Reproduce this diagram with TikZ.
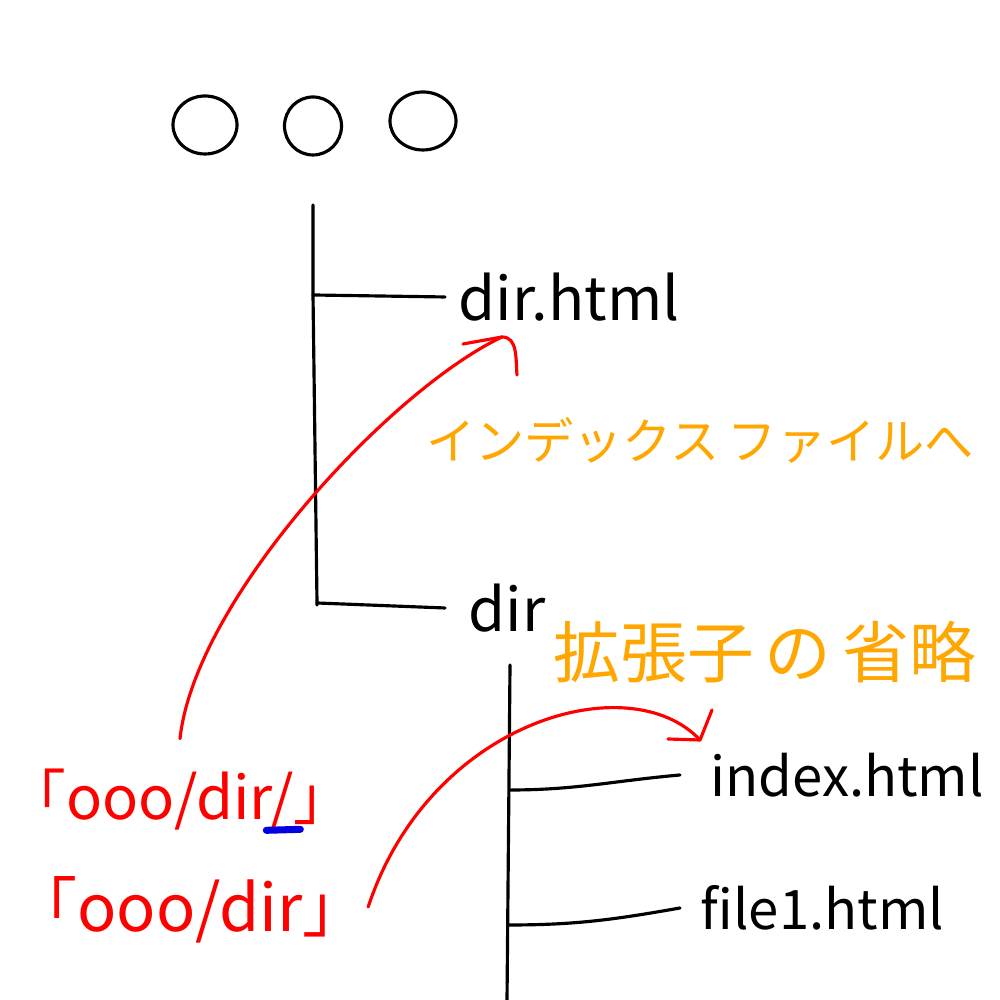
\documentclass[tikz,border=0pt]{standalone}
\usepackage{fontspec}
\setmainfont{Noto Sans CJK JP}
\usetikzlibrary{shapes.geometric}
\definecolor{penred}{RGB}{255,0,0}
\definecolor{penorange}{RGB}{255,166,0}
\definecolor{penblue}{RGB}{0,0,225}
\tikzset{
  pen/.style={line width=0.9pt, line cap=round, line join=round},
  ring/.style={draw, ellipse, inner sep=0pt, pen},
  file/.style={anchor=west, inner sep=0pt, font=\fontsize{17}{17}\selectfont},
  note/.style={inner sep=0pt, text=penorange},
  url/.style={inner sep=0pt, text=penred, font=\fontsize{17}{17}\selectfont}
}
\begin{document}
\begin{tikzpicture}
  \useasboundingbox (0,0) rectangle (10,10);
  \draw
    (2.05,8.75) node[ring, minimum width=0.64cm, minimum height=0.58cm] (c1){}
    (3.13,8.74) node[ring, minimum width=0.57cm, minimum height=0.58cm] (c2){}
    (4.23,8.79) node[ring, minimum width=0.66cm, minimum height=0.58cm] (c3){}
    (4.58,7.03) node[file] (dirhtml){dir.html}
    (4.68,3.92) node[file] (dir){dir}
    (7.10,2.25) node[file, font=\fontsize{15.5}{15.5}\selectfont] (index){index.html}
    (7.00,0.92) node[file, font=\fontsize{15.5}{15.5}\selectfont] (file1){file1.html}
    (7.00,5.60) node[note, font=\fontsize{14}{14}\selectfont] (toindex){インデックス\,ファイルへ}
    (7.65,3.48) node[note, font=\fontsize{19}{19}\selectfont] (noext){拡張子\,の\,省略}
    (1.80,2.00) node[url] (url1){「ooo/dir/」}
    (1.90,0.90) node[url, font=\fontsize{18.5}{18.5}\selectfont] (url2){「ooo/dir」};
  % tree lines
  \coordinate (t1) at (3.13,7.95);
  \coordinate (t2) at (5.10,3.35);
  \begin{scope}[pen]
    \draw (t1) -- (3.13,7.05) -- (3.17,3.97) -- (3.17,3.95);
    \draw (3.13,7.05) -- ([xshift=-1.3mm]dirhtml.west);
    \draw (3.17,3.97) -- ([xshift=-2.3mm]dir.west);
    \draw (t2) -- (5.07,0);
    \draw (5.10,2.10) to[out=0,in=185] ([xshift=-3mm]index.west);
    \draw (5.08,0.75) to[out=0,in=190] ([xshift=-2mm]file1.west);
  \end{scope}
  % red links
  \coordinate (tip1) at (5.02,6.63);
  \coordinate (tip2) at (7.00,2.60);
  \begin{scope}[pen, penred]
    \draw ([yshift=3mm]url1.north) .. controls (1.95,4.00) and (3.90,6.10) .. (tip1);
    \draw (4.63,6.56) -- (tip1) to[out=0,in=95] (5.17,6.25);
    \draw ([yshift=0.3mm]url2.east) .. controls (4.30,2.80) and (6.30,3.35) .. (tip2);
    \draw (6.68,2.61) -- (tip2) -- (7.12,2.90);
  \end{scope}
  \draw[penblue, line width=2pt, line cap=round] ([xshift=-8.8mm,yshift=0.1mm]url1.south east) -- ([xshift=-5.4mm,yshift=0.2mm]url1.south east);
\end{tikzpicture}
\end{document}
